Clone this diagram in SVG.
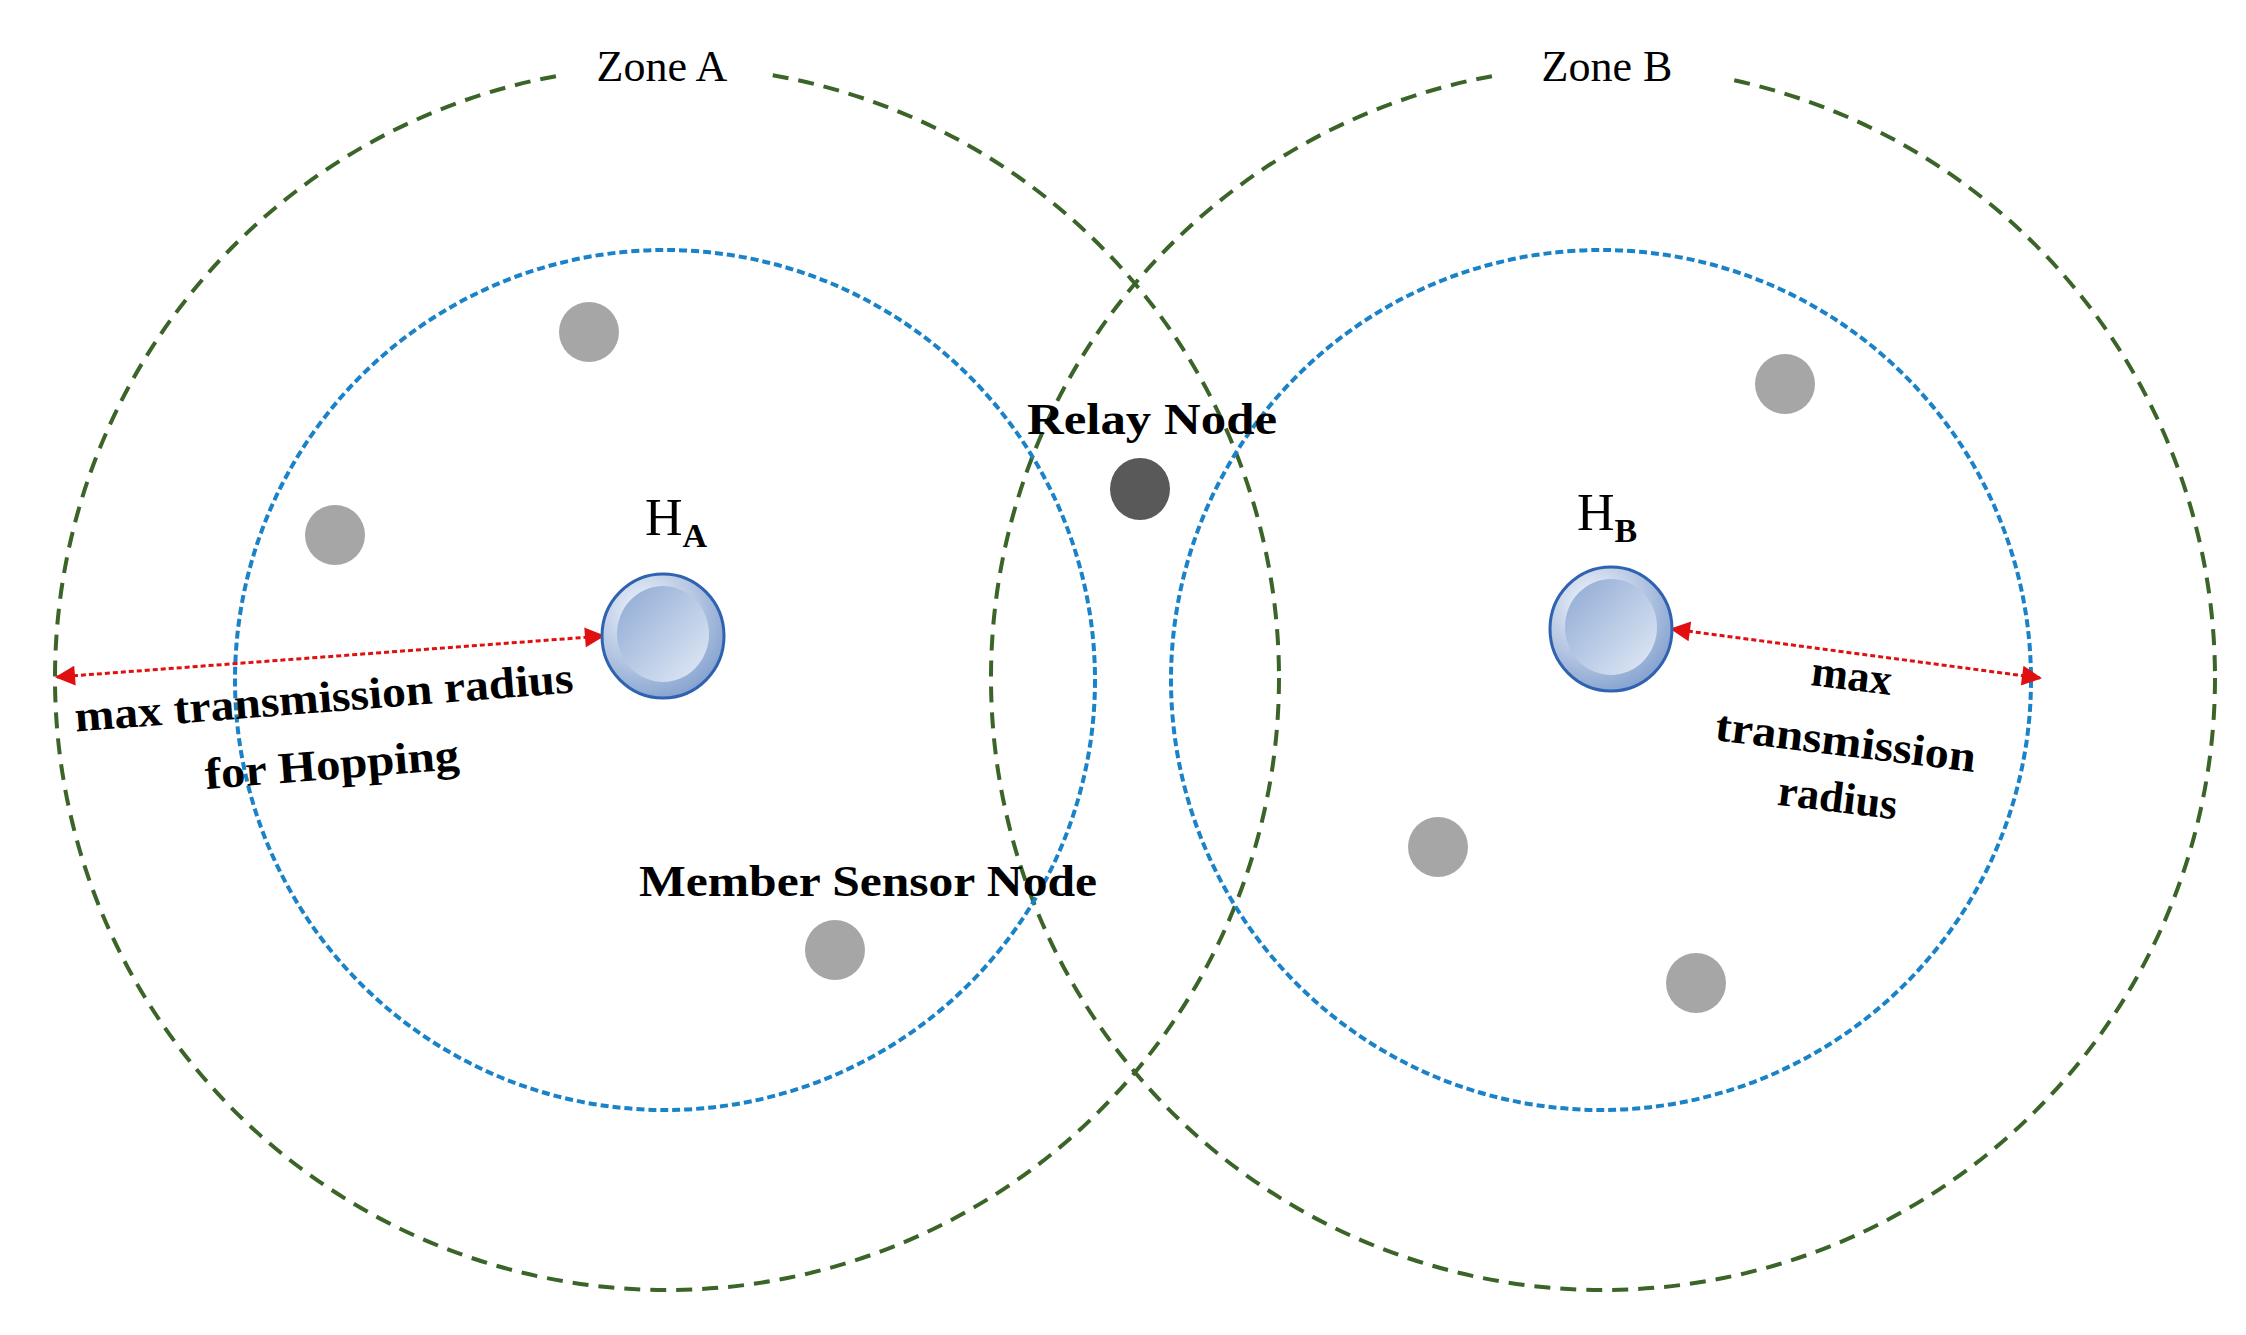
<svg xmlns="http://www.w3.org/2000/svg" width="2246" height="1335" viewBox="0 0 2246 1335">
<style>
.outer{fill:none;stroke:#3a6428;stroke-width:4;stroke-dasharray:16 10}
.inner{fill:none;stroke:#1a82c8;stroke-width:4;stroke-dasharray:8 4}
.member{fill:#a6a6a6}
.t{font-family:"Liberation Serif",serif;fill:#000}
.b{font-weight:bold;font-size:44px}
.arrow{stroke:#e01010;stroke-width:3;stroke-dasharray:5 3;fill:none}
</style>
<defs>
<marker id="ah" viewBox="0 0 10 10" refX="9" refY="5" markerWidth="24" markerHeight="20" orient="auto-start-reverse" markerUnits="userSpaceOnUse"><path d="M0,0L10,5L0,10z" fill="#e01010"/></marker>
<radialGradient id="hg" cx="0.35" cy="0.3" r="0.8"><stop offset="0" stop-color="#f4f7fc"/><stop offset="1" stop-color="#7d9ccc"/></radialGradient>
<linearGradient id="hi" x1="0" y1="0" x2="1" y2="1"><stop offset="0" stop-color="#8ea9d4"/><stop offset="1" stop-color="#e3ebf6"/></linearGradient>
</defs>
<rect width="2246" height="1335" fill="#fff"/>
<g id="zones">
<circle class="outer" cx="667" cy="678" r="612"/>
<circle class="outer" cx="1603" cy="678" r="612"/>
<circle class="inner" cx="665" cy="680" r="430"/>
<circle class="inner" cx="1601" cy="680" r="430"/>
<rect x="560" y="40" width="210" height="60" fill="#fff"/>
<rect x="1495" y="40" width="230" height="60" fill="#fff"/>
<text class="t" x="662" y="81" font-size="44" text-anchor="middle">Zone A</text>
<text class="t" x="1607" y="81" font-size="44" text-anchor="middle">Zone B</text>
</g>
<g id="connectors">
<line class="arrow" x1="57" y1="677" x2="603" y2="636" marker-start="url(#ah)" marker-end="url(#ah)"/>
<line class="arrow" x1="1672" y1="629" x2="2040" y2="678" marker-start="url(#ah)" marker-end="url(#ah)"/>
</g>
<g id="HA">
<ellipse cx="663" cy="636" rx="61" ry="62" fill="url(#hg)" stroke="#2f62b0" stroke-width="3"/>
<ellipse cx="663" cy="634" rx="46" ry="48" fill="url(#hi)"/>
<text class="t" x="645" y="535" font-size="52">H<tspan font-size="34" dy="12" font-weight="bold">A</tspan></text>
</g>
<g id="HB">
<ellipse cx="1611" cy="629" rx="61" ry="62" fill="url(#hg)" stroke="#2f62b0" stroke-width="3"/>
<ellipse cx="1611" cy="627" rx="46" ry="48" fill="url(#hi)"/>
<text class="t" x="1577" y="530" font-size="52">H<tspan font-size="34" dy="12" font-weight="bold">B</tspan></text>
</g>
<g id="relay">
<ellipse cx="1140" cy="489" rx="30" ry="31" fill="#595959"/>
<text class="t b" x="1152" y="434" text-anchor="middle" textLength="250" lengthAdjust="spacingAndGlyphs">Relay Node</text>
</g>
<g id="members">
<circle class="member" cx="589" cy="332" r="30"/>
<circle class="member" cx="335" cy="535" r="30"/>
<circle class="member" cx="835" cy="950" r="30"/>
<circle class="member" cx="1785" cy="384" r="30"/>
<circle class="member" cx="1438" cy="847" r="30"/>
<circle class="member" cx="1696" cy="983" r="30"/>
<text class="t b" x="868" y="896" text-anchor="middle" textLength="458" lengthAdjust="spacingAndGlyphs">Member Sensor Node</text>
</g>
<g id="labels">
<text class="t b" transform="translate(325,712) rotate(-4.5)" text-anchor="middle" textLength="500" lengthAdjust="spacingAndGlyphs">max transmission radius</text>
<text class="t b" transform="translate(333,779) rotate(-4.5)" text-anchor="middle" textLength="255" lengthAdjust="spacingAndGlyphs">for Hopping</text>
<text class="t b" transform="translate(1850,690) rotate(7)" text-anchor="middle">max</text>
<text class="t b" transform="translate(1844,756) rotate(7)" text-anchor="middle" textLength="262" lengthAdjust="spacingAndGlyphs">transmission</text>
<text class="t b" transform="translate(1836,812) rotate(7)" text-anchor="middle">radius</text>
</g>
</svg>
